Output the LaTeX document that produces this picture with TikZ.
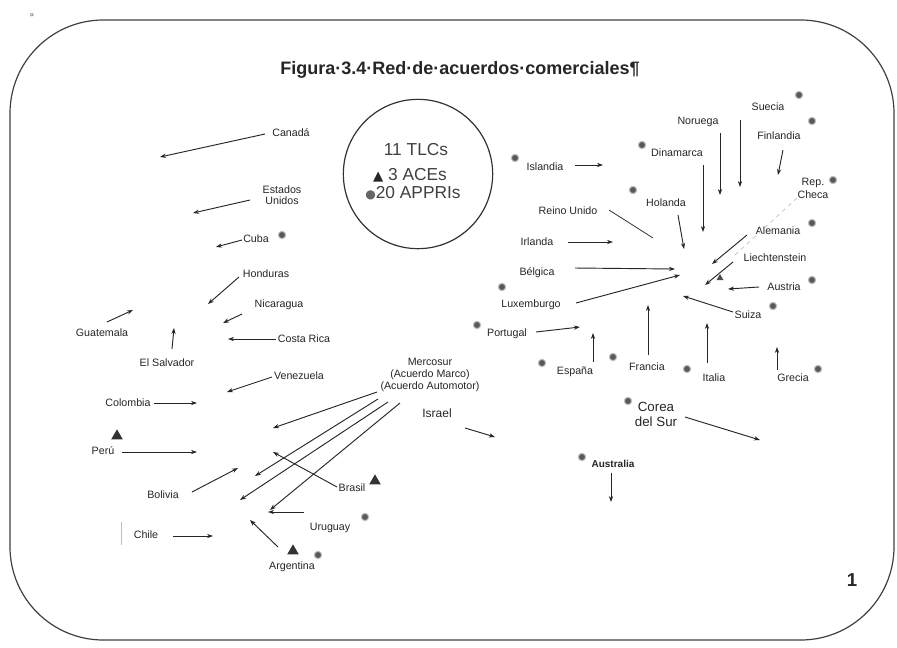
\documentclass[tikz,border=0pt]{standalone}
\usepackage{fontspec}
\setmainfont{Liberation Sans}
\newfontfamily\symf{DejaVu Sans}
\usetikzlibrary{arrows.meta,shapes.geometric}
\begin{document}
\begin{tikzpicture}[x=0.75pt,y=-0.75pt,
  lab/.style={font=\fontsize{8}{9}\selectfont, inner sep=0pt, text=black!85, align=center},
  arr/.style={-{Stealth[length=4.5pt,width=3.2pt]}, line width=0.7pt, draw=black!85},
  plainln/.style={line width=0.6pt, draw=black!80},
  apr/.style={circle, fill=black!65, draw=gray!50, line width=0.8pt, inner sep=0pt, minimum size=5.5pt},
  ace/.style={regular polygon, regular polygon sides=3, fill=black!80, inner sep=0pt, minimum size=10pt},
  acesm/.style={regular polygon, regular polygon sides=3, fill=black!70, inner sep=0pt, minimum size=6pt},
]
\useasboundingbox (0,0) rectangle (897,647);
\fill[white] (0,0) rectangle (897,647);

% frame
\draw[line width=0.9pt, draw=black!75, rounded corners=70pt] (10,20) rectangle (894,640);
\node[font=\fontsize{5}{6}\selectfont, text=black!70] (mark) at (32,16) {¤};
\node[font=\bfseries\fontsize{13.5}{15}\selectfont, text=black!85] (title) at (460,70) {Figura·3.4·Red·de·acuerdos·comerciales¶};
\node[font=\bfseries\fontsize{14}{16}\selectfont, text=black!85] (pnum) at (852,580) {1};

% legend circle
\node[draw=black!80, circle, line width=0.9pt, minimum size=112pt, inner sep=0pt] (legend) at (418,174) {};
\node[font=\fontsize{13}{15}\selectfont, text=black!75, inner sep=0pt] (tlc) at (416,150) {11 TLCs};
\node[font=\fontsize{13}{15}\selectfont, text=black!75, inner sep=0pt] (acel) at (410,175) {{\symf\fontsize{10}{10}\selectfont\color{black!85}▲} 3 ACEs};
\node[font=\fontsize{13}{15}\selectfont, text=black!75, inner sep=0pt] (appl) at (413,193) {{\symf\fontsize{9}{9}\selectfont\color{black!60}●}20 APPRIs};

% Americas labels
\node[lab] (canada) at (291,133) {Canadá};
\node[lab, font=\fontsize{8}{8.5}\selectfont] (eeuu) at (282,195) {Estados\\Unidos};
\node[lab] (cuba) at (256,239) {Cuba};
\node[lab] (honduras) at (266,274) {Honduras};
\node[lab] (nicaragua) at (279,305) {Nicaragua};
\node[lab] (costarica) at (304,339) {Costa Rica};
\node[lab] (guatemala) at (102,333) {Guatemala};
\node[lab] (elsalvador) at (167,363) {El Salvador};
\node[lab] (venezuela) at (299,376) {Venezuela};
\node[lab] (colombia) at (128,403) {Colombia};
\node[lab] (peru) at (103,451) {Perú};
\node[lab] (bolivia) at (163,495) {Bolivia};
\node[lab] (chile) at (146,535) {Chile};
\node[lab] (brasil) at (352,488) {Brasil};
\node[lab] (uruguay) at (330,528) {Uruguay};
\node[lab] (argentina) at (292,567) {Argentina};
\node[lab] (merc) at (430,375) {Mercosur\\(Acuerdo Marco)\\(Acuerdo Automotor)};
\node[lab, font=\fontsize{9}{10}\selectfont] (israel) at (437,413) {Israel};
\node[lab, font=\fontsize{10}{11.25}\selectfont] (corea) at (656,414) {Corea\\del Sur};
\node[lab, font=\bfseries\fontsize{7.5}{9}\selectfont] (australia) at (613,464) {Australia};
\draw[gray!50, line width=0.4pt] (121,522) -- (121,545);

% Europe labels
\node[lab] (islandia) at (545,167) {Islandia};
\node[lab] (dinamarca) at (677,153) {Dinamarca};
\node[lab] (noruega) at (698,122) {Noruega};
\node[lab] (suecia) at (768,107) {Suecia};
\node[lab] (finlandia) at (779,136) {Finlandia};
\node[lab, font=\fontsize{8}{9.75}\selectfont] (repcheca) at (813,188) {Rep.\\Checa};
\node[lab] (alemania) at (778,231) {Alemania};
\node[lab] (liech) at (775,258) {Liechtenstein};
\node[lab] (austria) at (784,287) {Austria};
\node[lab] (suiza) at (748,315) {Suiza};
\node[lab] (holanda) at (666,203) {Holanda};
\node[lab] (reino) at (568,211) {Reino Unido};
\node[lab] (irlanda) at (537,242) {Irlanda};
\node[lab] (belgica) at (537,273) {Bélgica};
\node[lab] (luxemburgo) at (531,305) {Luxemburgo};
\node[lab] (portugal) at (507,334) {Portugal};
\node[lab] (espana) at (575,372) {España};
\node[lab] (francia) at (647,367) {Francia};
\node[lab] (italia) at (714,378) {Italia};
\node[lab] (grecia) at (793,378) {Grecia};

% APPRI dots
\foreach \n/\x/\y in {cub/282/235, isl/515/158, din/642/145, sue1/799/95, sue2/812/121,
  hol/633/190, rep/833/180, ale/812/223, aut/812/280, sui/773/306, lux/502/287,
  por/477/325, esp/542/363, fra/613/357, ita/687/369, gre/818/369, cor/628/401,
  aus/582/457, uru/365/517, arg/318/555}{
  \node[apr] (dot-\n) at (\x,\y) {};
}
% ACE triangles
\node[ace] (tri-peru) at (117,436) {};
\node[ace] (tri-brasil) at (375,481) {};
\node[ace] (tri-arg) at (293,551) {};
\node[acesm] (tri-lie) at (720,278) {};

% arrows
\foreach \n/\xa/\ya/\xb/\yb in {
  can/265/134/160/157, eua/250/200/193/213, cub/242/240/216/247, hon/239/277/208/304,
  nic/242/314/223/323, cos/276/339/228/339, gua/107/322/133/310, els/172/349/174/328,
  ven/272/377/227/392, col/154/403/197/403, per/122/452/197/452, bol/192/492/238/468,
  chi/173/536/213/536, bra/337/487/273/452, uru/304/512/268/512, arg/278/547/250/520,
  ma/377/392/273/428, mb/378/399/255/476, mc/388/402/240/500, md/400/403/270/510,
  isr/465/428/495/437, cor/685/417/760/440, aus/611/473/611/502,
  isl/575/165/603/165, din/703/165/703/232, nor/720/133/720/195, sue/740/120/740/187,
  fin/783/150/778/175, hol/678/215/684/249, irl/568/242/613/242, bel/575/268/675/269,
  lux/576/303/680/275, por/536/332/580/327, esp/593/362/593/333, fra/648/355/648/305,
  ita/707/363/707/323, gre/777/370/777/347, ale/747/235/712/264, lie/733/262/705/285,
  aut/759/287/728/289, sui/733/312/683/296}{
  \coordinate (\n-s) at (\xa,\ya);
  \coordinate (\n-e) at (\xb,\yb);
  \draw[arr] (\n-s) -- (\n-e);
}
\coordinate (rei-s) at (609,210);
\coordinate (rei-e) at (653,238);
\draw[plainln] (rei-s) -- (rei-e);
\coordinate (rep-s) at (797,198);
\coordinate (rep-e) at (735,255);
\draw[gray!45, dashed, line width=0.6pt] (rep-s) -- (rep-e);
\end{tikzpicture}
\end{document}
